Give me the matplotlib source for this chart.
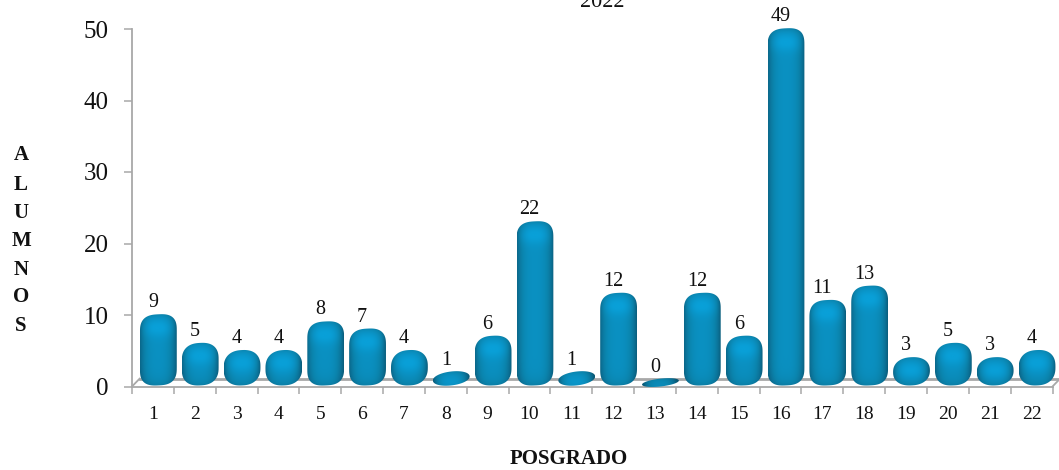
import numpy as np
import matplotlib
matplotlib.use("Agg")
import matplotlib.pyplot as plt
from matplotlib.path import Path
from matplotlib.patches import PathPatch
from matplotlib.colors import LinearSegmentedColormap

categories = ["1","2","3","4","5","6","7","8","9","10","11","12","13","14","15","16","17","18","19","20","21","22"]
values = [9, 5, 4, 4, 8, 7, 4, 1, 6, 22, 1, 12, 0, 12, 6, 49, 11, 13, 3, 5, 3, 4]
y_ticks = [0, 10, 20, 30, 40, 50]
title = "2022"
x_title = "POSGRADO"
y_title = "ALUMNOS"

W, H = 1059, 470
plt.rcParams["font.family"] = ["Liberation Serif", "DejaVu Serif"]
fig = plt.figure(figsize=(W/100, H/100), dpi=100)
x0, x1, y0, y1 = 132, 1052.5, 386.5, 29
ax = fig.add_axes([x0/W, 1-y0/H, (x1-x0)/W, (y0-y1)/H])
ax.patch.set_visible(False)
for s in ("top", "right"):
    ax.spines[s].set_visible(False)
gray = "#a8a8a8"
for s in ("left", "bottom"):
    ax.spines[s].set_color(gray); ax.spines[s].set_linewidth(1.3)
ax.set_yticks(y_ticks)
ax.tick_params(axis="y", length=5.5, width=1.1, color=gray, labelsize=18, pad=11.5, labelcolor="#111111")
ax.set_xticks(range(len(values) + 1))
ax.set_xticklabels([])
ax.tick_params(axis="x", length=5, width=1.1, color=gray)

dx = 0.13    # depth offset (categories)
dy = 1.1     # depth offset (value units)
end = len(values)
ax.plot([0, dx*1.4], [0, dy], color=gray, lw=1.3, clip_on=False)
ax.plot([dx*1.4, end+dx*1.4], [dy, dy], color=gray, lw=2.0, clip_on=False, zorder=1)
ax.plot([end, end+dx*1.4], [0, dy], color=gray, lw=1.3, clip_on=False)

cmap = LinearSegmentedColormap.from_list("b", ["#0a5874", "#0b6f94", "#0b84ad", "#0a92c4", "#09a0d8"])
bw = 0.88

def bar_path(l, r, b, t):
    w, h = r - l, t - b
    n = np.interp(h, [1.5, 4, 9], [2.0, 2.3, 2.8])
    ry = min(h/2, 2.4)
    a = np.linspace(0, np.pi, 50)
    xs = np.cos(a)
    cap = np.abs(np.sin(a))**(2/n)
    ex = np.abs(xs)**(2/n)*np.sign(xs)
    top_x = l + w/2 + ex*w/2
    top_y = t - ry + cap*ry
    bot_x = l + w/2 - ex*w/2
    bot_y = b + ry - cap*ry
    px = np.r_[top_x, bot_x]
    py = np.r_[top_y, bot_y]
    tilt = 0.28 if h < 3 else 0.12
    py = py + tilt*(px - (l + w/2))/(w/2)
    return Path(np.c_[px, py])

for i, v in enumerate(values):
    cx = i + 0.5 + dx
    b = 0.15 if v > 0 else 0.0
    t = max(v + dy, b + 1.0)
    l, r = cx - bw/2, cx + bw/2
    pad = 0.4
    X, Y = np.meshgrid(np.linspace(-1, 1, 80), np.linspace(b-pad, t+pad, 240))
    pb = Y - b
    pt = t - Y
    side = 1 - np.abs(X + 0.03)**2.6
    Z = 0.12 + 0.60*side
    Z = Z + 0.30*np.exp(-((pt-1.9)/1.3)**2)*side
    Z = Z - 0.28*np.exp(-pb/0.9)
    Z = Z - 0.28*np.exp(-np.clip(pt, 0, None)/0.45)
    Z = np.clip(Z, 0, 1)
    im = ax.imshow(Z, extent=[l, r, b-pad, t+pad], origin="lower", cmap=cmap, vmin=0, vmax=1,
                   aspect="auto", zorder=3, interpolation="bilinear")
    patch = PathPatch(bar_path(l, r, b, t), transform=ax.transData, fc="none", ec="none")
    ax.add_patch(patch)
    patch.set_clip_on(False)
    im.set_clip_path(patch)
    im.set_clip_box(fig.bbox)
    ax.text(i + 0.5, v + dy + 1.6, str(v), ha="center", va="center", fontsize=14.5, color="#111111", clip_on=False, zorder=5)
    ax.text(i + 0.5, -3.95, categories[i], ha="center", va="center", fontsize=14, color="#111111", clip_on=False)

ax.set_xlim(0, end); ax.set_ylim(0, 50)
fig.text(602/W, 1-2.5/H, title, ha="center", va="center", fontsize=16, color="#111111")
fig.text(569/W, 1-459/H, x_title, ha="center", va="center", fontsize=15, fontweight="bold", color="#111111")
for ch, y in zip(y_title, [155, 185, 213, 241, 270, 297, 326]):
    fig.text(21/W, 1-y/H, ch, ha="center", va="center", fontsize=15, fontweight="bold", color="#111111")
fig.savefig("out.png", dpi=100)
